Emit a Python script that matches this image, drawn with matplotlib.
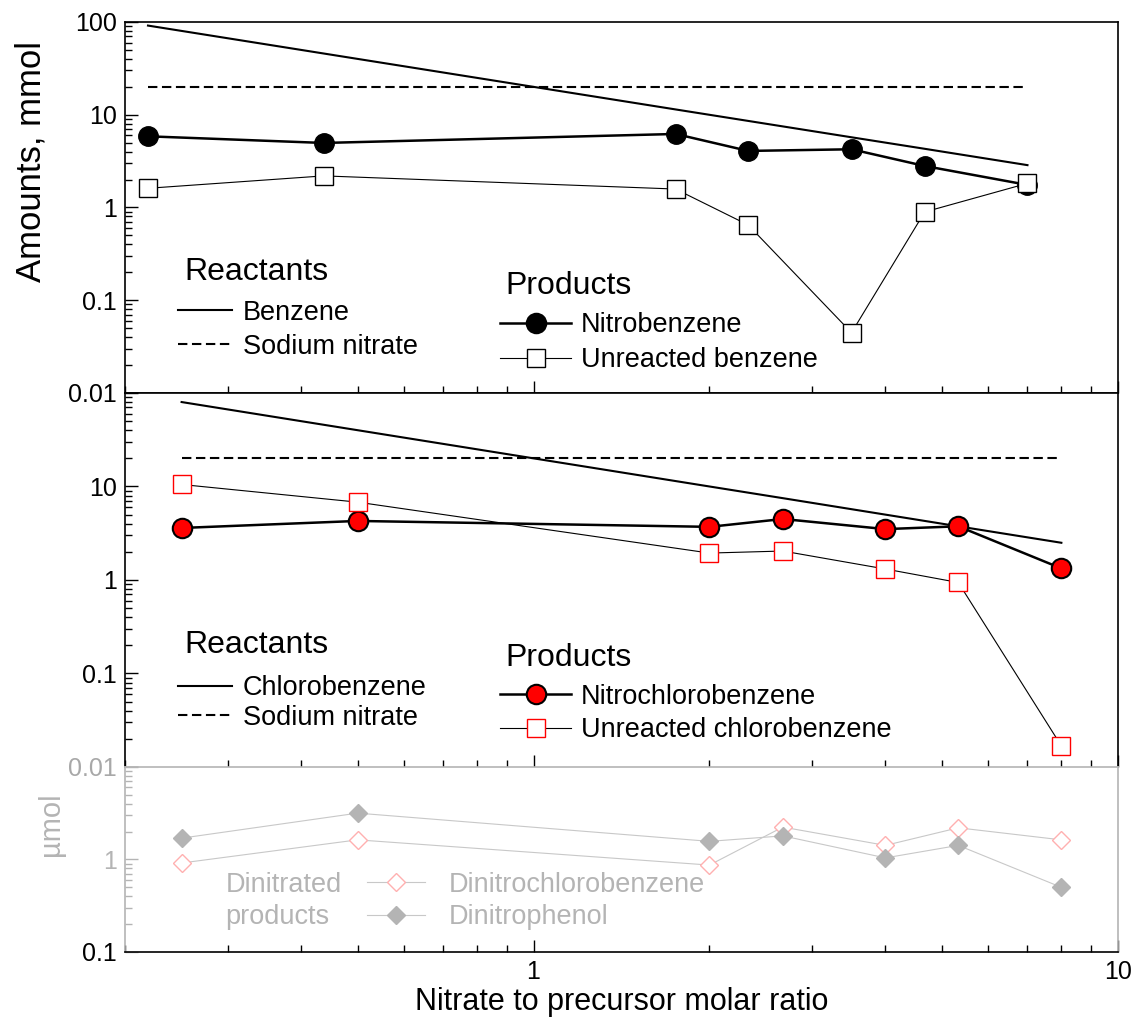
"""
Nitration of benzene / chlorobenzene vs nitrate-to-precursor ratio
=================================================================
Three stacked log-log panels sharing the x axis.
"""

import matplotlib.pyplot as plt
from matplotlib.lines import Line2D

plt.rcParams['font.family'] = ['Liberation Sans', 'DejaVu Sans']

# =============================================================================
# DATA
# =============================================================================

# benzene experiments
BZ_RATIO        = [0.219, 0.4375, 1.75, 2.33, 3.5, 4.67, 7.0]
BZ_BENZENE      = [91.4, 45.7, 11.4, 8.57, 5.71, 4.29, 2.86]
BZ_NITRATE      = [20, 20, 20, 20, 20, 20, 20]
NITROBENZENE    = [5.85, 4.96, 6.2, 4.07, 4.24, 2.8, 1.75]
UNREACTED_BZ    = [1.61, 2.19, 1.58, 0.647, 0.0447, 0.895, 1.82]

# chlorobenzene experiments
CB_RATIO        = [0.25, 0.5, 2.0, 2.67, 4.0, 5.33, 8.0]
CB_CHLOROBENZ   = [80, 40, 10, 7.5, 5.0, 3.75, 2.5]
CB_NITRATE      = [20, 20, 20, 20, 20, 20, 20]
NITROCHLOROBENZ = [3.6, 4.28, 3.7, 4.49, 3.5, 3.75, 1.33]
UNREACTED_CB    = [10.5, 6.8, 1.94, 2.04, 1.31, 0.94, 0.0168]

# dinitrated products (umol)
DINITROCHLOROBENZ = [0.916, 1.63, 0.87, 2.24, 1.42, 2.20, 1.63]
DINITROPHENOL     = [1.70, 3.17, 1.57, 1.80, 1.04, 1.42, 0.50]

# =============================================================================
# STYLE
# =============================================================================

GREY      = '#b4b4b4'
LINE_GREY = '#c8c8c8'
PINK      = '#ffb0b0'
FS_TICK   = 18
FS_LEG    = 19.5
FS_TITLE  = 23

LEFT, WIDTH = 0.1099, 0.8734


def setup_axis(ax, ylim):
    ax.set_xscale('log')
    ax.set_yscale('log')
    ax.set_xlim(0.2, 10)
    ax.set_ylim(*ylim)
    ax.tick_params(which='both', direction='in', top=False, right=False,
                   labelsize=FS_TICK, pad=6)
    ax.tick_params(which='major', length=9, width=1)
    ax.tick_params(which='minor', length=5, width=1)
    for s in ax.spines.values():
        s.set_linewidth(1.2)


def add_legends(ax, reactant_label, product_label, product_color, layout):
    (y_rt, y_r, sp_r), (y_pt, y_p, sp_p) = layout

    ax.text(0.060, y_rt, 'Reactants', transform=ax.transAxes,
            fontsize=FS_TITLE, va='center', ha='left')
    h_react = [Line2D([], [], color='black', lw=1.5),
               Line2D([], [], color='black', lw=1.5, dashes=(4.5, 2.2))]
    leg1 = ax.legend(h_react, [reactant_label, 'Sodium nitrate'], fontsize=FS_LEG,
                     loc='center left', bbox_to_anchor=(0.053, y_r),
                     frameon=False, borderpad=0, borderaxespad=0,
                     handlelength=2.0, handletextpad=0.4, labelspacing=sp_r)
    ax.add_artist(leg1)

    ax.text(0.383, y_pt, 'Products', transform=ax.transAxes,
            fontsize=FS_TITLE, va='center', ha='left')
    h_prod = [Line2D([], [], color='black', lw=1.8, marker='o', ms=14,
                     mfc=product_color, mec='black', mew=1.5),
              Line2D([], [], color='black', lw=0.8, marker='s', ms=13,
                     mfc='white', mec=product_color, mew=1.0)]
    ax.legend(h_prod, [product_label, 'Unreacted ' + reactant_label.lower()],
              fontsize=FS_LEG, loc='center left', bbox_to_anchor=(0.378, y_p),
              frameon=False, borderpad=0, borderaxespad=0,
              handlelength=2.6, handletextpad=0.37, labelspacing=sp_p)


def main():
    fig = plt.figure(figsize=(11.37, 10.21), dpi=100)
    ax1 = fig.add_axes([LEFT, 0.6151, WIDTH, 0.3634])
    ax2 = fig.add_axes([LEFT, 0.2488, WIDTH, 0.3663])
    ax3 = fig.add_axes([LEFT, 0.0676, WIDTH, 0.1812])

    setup_axis(ax1, (0.01, 100))
    setup_axis(ax2, (0.01, 100))
    setup_axis(ax3, (0.1, 10))

    # ---- benzene panel
    ax1.plot(BZ_RATIO, BZ_BENZENE, color='black', lw=1.5)
    ax1.plot(BZ_RATIO, BZ_NITRATE, color='black', lw=1.5, dashes=(4.5, 2.2))
    ax1.plot(BZ_RATIO, NITROBENZENE, color='black', lw=1.8, marker='o', ms=14,
             mfc='black', mec='black')
    ax1.plot(BZ_RATIO, UNREACTED_BZ, color='black', lw=0.8, marker='s', ms=13,
             mfc='white', mec='black', mew=1.0)
    ax1.set_yticks([0.01, 0.1, 1, 10, 100], ['0.01', '0.1', '1', '10', '100'])
    ax1.tick_params(axis='x', labelbottom=False)
    ax1.set_ylabel('Amounts, mmol', fontsize=25)
    ax1.yaxis.set_label_coords(-0.0785, 0.625)
    add_legends(ax1, 'Benzene', 'Nitrobenzene', 'black',
                ((0.326, 0.170, 0.30), (0.288, 0.136, 0.33)))

    # ---- chlorobenzene panel
    ax2.plot(CB_RATIO, CB_CHLOROBENZ, color='black', lw=1.5)
    ax2.plot(CB_RATIO, CB_NITRATE, color='black', lw=1.5, dashes=(4.5, 2.2))
    ax2.plot(CB_RATIO, NITROCHLOROBENZ, color='black', lw=1.8, marker='o', ms=14,
             mfc='red', mec='black', mew=1.5)
    ax2.plot(CB_RATIO, UNREACTED_CB, color='black', lw=0.8, marker='s', ms=13,
             mfc='white', mec='red', mew=1.0)
    ax2.set_yticks([0.01, 0.1, 1, 10, 100], ['0.01', '0.1', '1', '10', ''])
    ax2.get_yticklabels()[0].set_color('#a8a8a8')
    ax2.tick_params(axis='x', labelbottom=False)
    ax2.spines['bottom'].set_visible(False)
    add_legends(ax2, 'Chlorobenzene', 'Nitrochlorobenzene', 'red',
                ((0.326, 0.171, 0.12), (0.291, 0.143, 0.27)))

    # ---- dinitrated products panel
    ax3.plot(CB_RATIO, DINITROCHLOROBENZ, color=LINE_GREY, lw=0.8, marker='D', ms=9.5,
             mfc='white', mec=PINK, mew=1.0, label='Dinitrochlorobenzene')
    ax3.plot(CB_RATIO, DINITROPHENOL, color=LINE_GREY, lw=0.8, marker='D', ms=9.5,
             mfc=GREY, mec=GREY, label='Dinitrophenol')
    for side in ('left', 'top', 'right'):
        ax3.spines[side].set_color(GREY)
    ax3.tick_params(axis='y', which='both', colors=GREY)
    ax3.set_yticks([0.1, 1, 10], ['0.1', '1', ''])
    ax3.get_yticklabels()[0].set_color('black')
    ax3.set_xticks([1, 10], ['1', '10'])
    ax3.set_ylabel('µmol', fontsize=21, color=GREY)
    ax3.yaxis.set_label_coords(-0.060, 0.69)
    ax3.set_xlabel('Nitrate to precursor molar ratio', fontsize=22)
    ax3.xaxis.set_label_coords(0.5005, -0.19)
    ax3.text(0.101, 0.276, 'Dinitrated\nproducts', transform=ax3.transAxes,
             fontsize=FS_LEG, color=GREY, va='center', ha='left', linespacing=1.3)
    ax3.legend(loc='center left', bbox_to_anchor=(0.244, 0.276), frameon=False,
               fontsize=FS_LEG, labelcolor=GREY, borderpad=0, borderaxespad=0,
               handlelength=2.15, handletextpad=0.85, labelspacing=0.25)

    plt.savefig('out.png', dpi=100)
    plt.close()


if __name__ == '__main__':
    main()
